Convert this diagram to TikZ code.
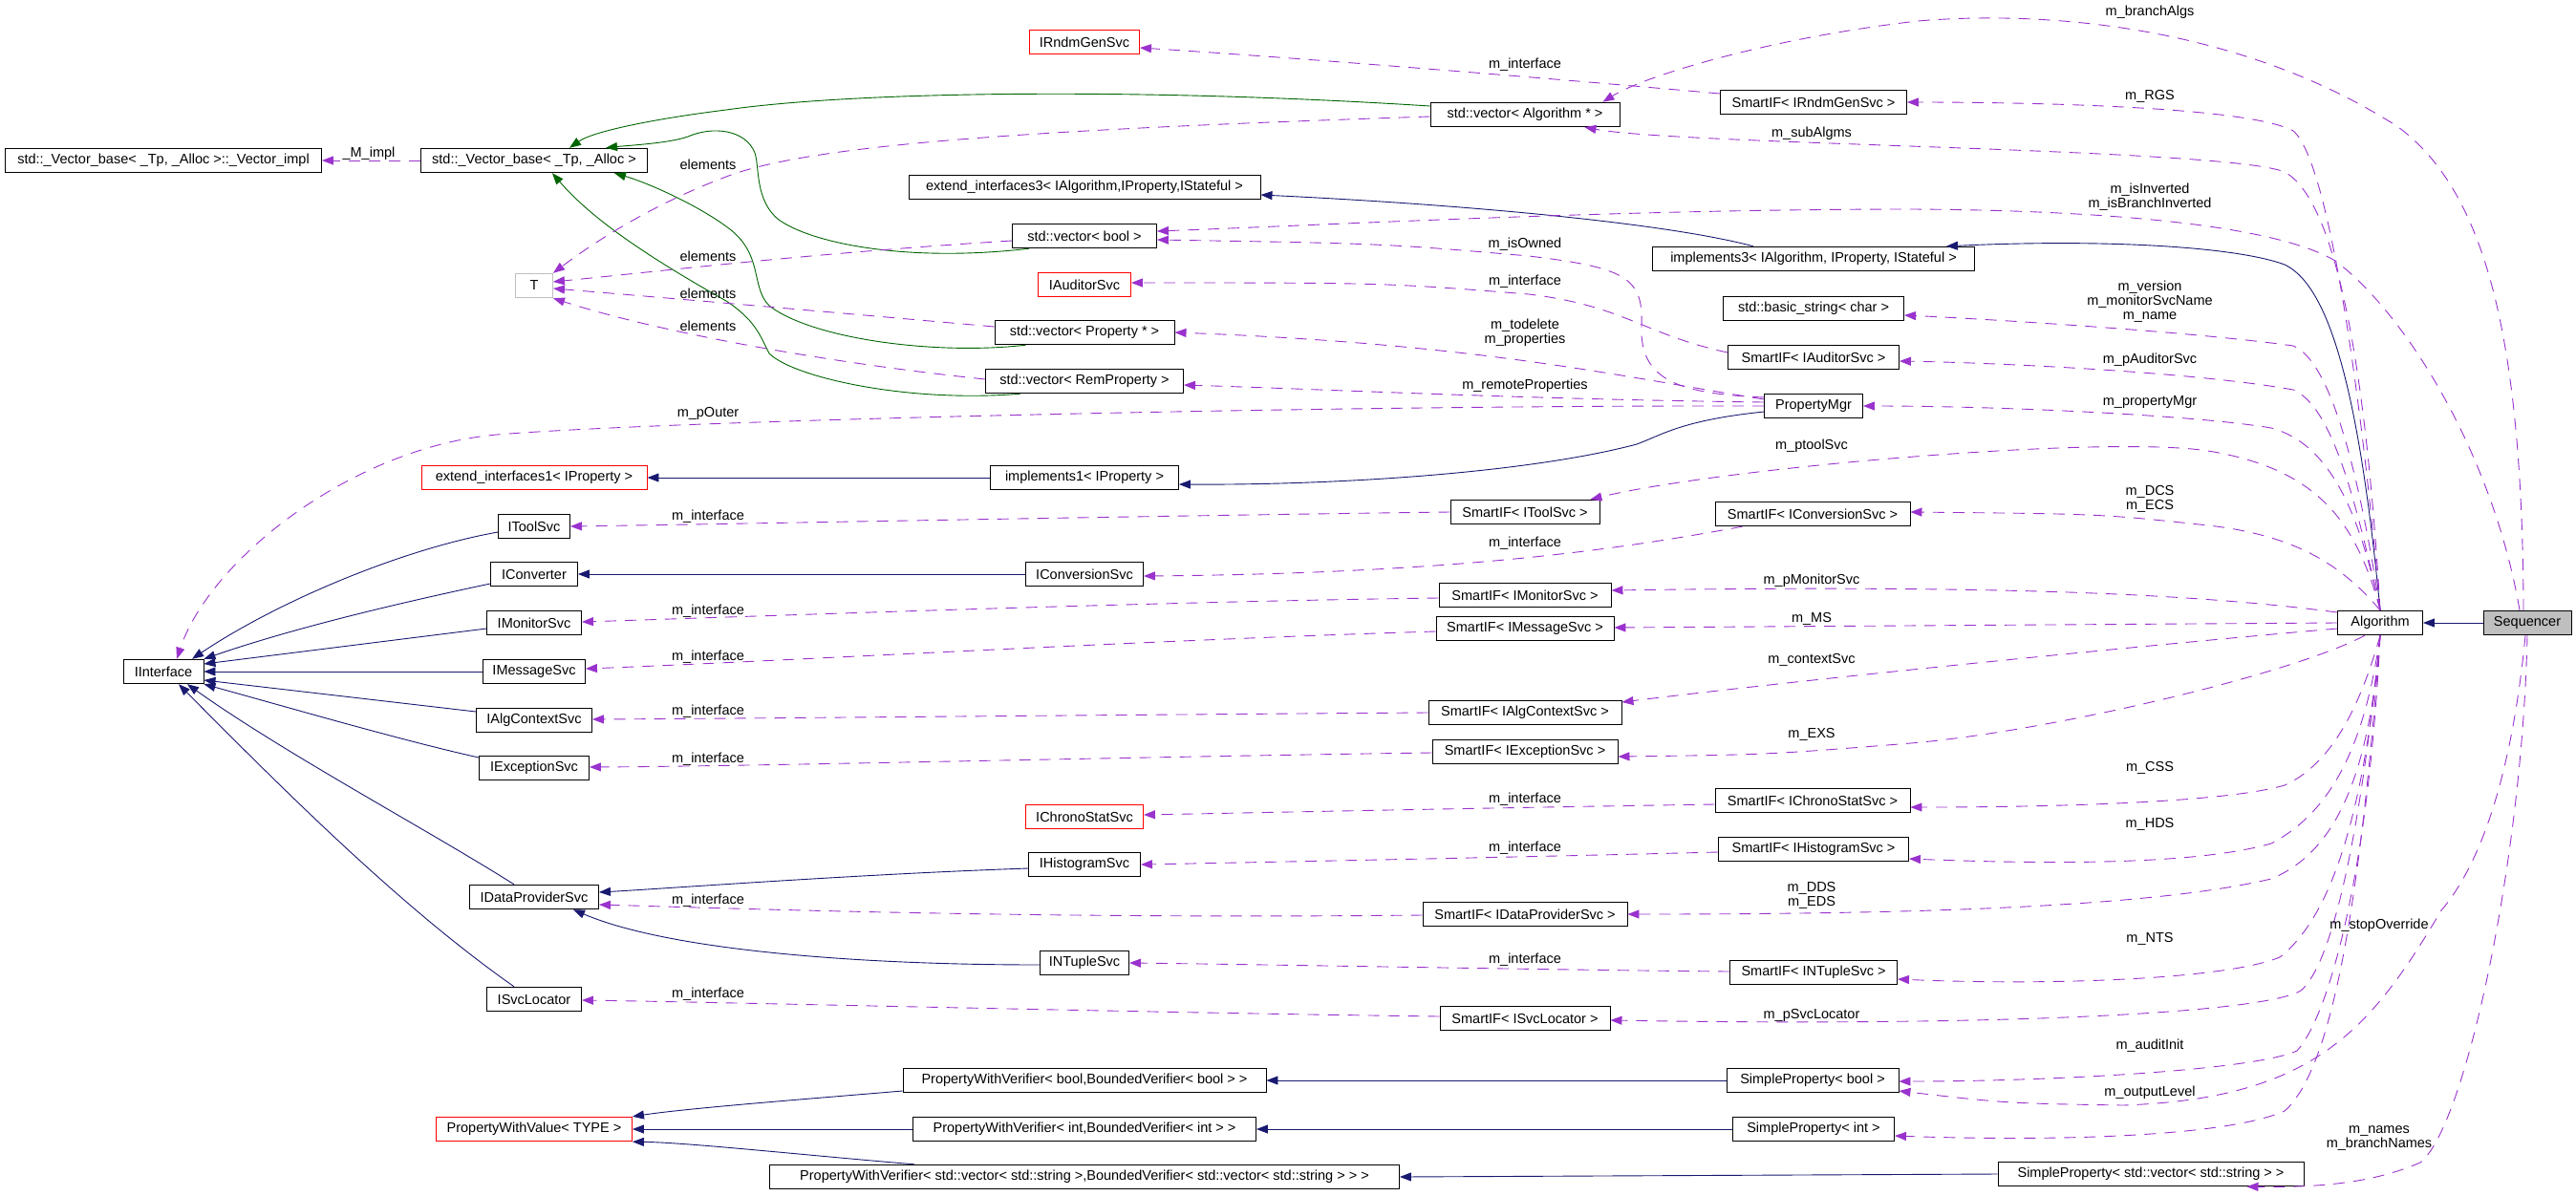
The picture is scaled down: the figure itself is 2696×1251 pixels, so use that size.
\documentclass[tikz,border=0pt]{standalone}
\usepackage{fontspec}
\setmainfont{Liberation Sans}
\usetikzlibrary{arrows.meta}

\definecolor{doxblue}{HTML}{191970}
\definecolor{doxgreen}{HTML}{006400}
\definecolor{doxpurple}{HTML}{9A32CD}
\colorlet{focus fill}{black!25}
\colorlet{tparam edge}{black!25}
\tikzset{
  cls/.style={draw=black, line width=0.9pt, rectangle, inner xsep=6pt, inner ysep=0pt,
    minimum height=25.5pt, font=\fontsize{14.5}{15}\selectfont},
  incomplete/.style={cls, draw=red},
  tparam/.style={cls, draw=tparam edge},
  focus/.style={cls, fill=focus fill},
  lbl/.style={inner sep=0pt, align=center, font=\fontsize{14.5}{15}\selectfont}
  }
\tikzstyle{pub} = [draw=doxblue, line width=0.9pt, -{Triangle[length=12pt,width=9pt]}]
\tikzstyle{prot} = [draw=doxgreen, line width=0.9pt, -{Triangle[length=12pt,width=9pt]}]
\tikzstyle{member} = [draw=doxpurple, line width=0.9pt, dash pattern=on 12pt off 9pt, -{Triangle[length=12pt,width=9pt]}]

\begin{document}
\begin{tikzpicture}[x=1pt, y=-1pt]
  \useasboundingbox (0,0) rectangle (2696,1251);

  % classes
  \node[cls, minimum width=331pt] (vimpl) at (171,168) {std::\_Vector\_base< \_Tp, \_Alloc >::\_Vector\_impl};
  \node[cls, minimum width=84pt] (iface) at (171,703) {IInterface};

  \node[cls, minimum width=237pt] (vbase) at (559,168) {std::\_Vector\_base< \_Tp, \_Alloc >};
  \node[tparam, minimum width=39pt] (T) at (559,299) {T};
  \node[incomplete, minimum width=236pt] (ext1) at (559,500) {extend\_interfaces1< IProperty >};
  \foreach \nm/\y/\w/\txt in {tool/551/75/IToolSvc, conv/601/91/IConverter, mon/652/99/IMonitorSvc,
      msg/703/107/IMessageSvc, ctx/754/121/IAlgContextSvc, exc/804/115/IExceptionSvc} {
    \node[cls, minimum width=\w pt] (\nm) at (559,\y) {\txt};
  }
  \node[cls, minimum width=135pt] (dps) at (559,939) {IDataProviderSvc};
  \node[cls, minimum width=99pt] (loc) at (559,1046) {ISvcLocator};
  \node[incomplete, minimum width=205pt] (pwval) at (559,1182) {PropertyWithValue< TYPE >};

  \node[incomplete, minimum width=115pt] (rndm) at (1135,44) {IRndmGenSvc};
  \node[cls, minimum width=368pt] (ext3) at (1135,196) {extend\_interfaces3< IAlgorithm,IProperty,IStateful >};
  \node[cls, minimum width=151pt] (vbool) at (1135,247) {std::vector< bool >};
  \node[incomplete, minimum width=97pt] (audsvc) at (1135,298) {IAuditorSvc};
  \node[cls, minimum width=188pt] (vprop) at (1135,348) {std::vector< Property * >};
  \node[cls, minimum width=207pt] (vrem) at (1135,399) {std::vector< RemProperty >};
  \node[cls, minimum width=197pt] (impl1) at (1135,500) {implements1< IProperty >};
  \node[cls, minimum width=123pt] (convsvc) at (1135,601) {IConversionSvc};
  \node[incomplete, minimum width=123pt] (chrono) at (1135,855) {IChronoStatSvc};
  \node[cls, minimum width=117pt] (hist) at (1135,905) {IHistogramSvc};
  \node[cls, minimum width=93pt] (ntup) at (1135,1008) {INTupleSvc};
  \node[cls, minimum width=380pt] (pwvbool) at (1135,1131) {PropertyWithVerifier< bool,BoundedVerifier< bool > >};
  \node[cls, minimum width=359pt] (pwvint) at (1135,1182) {PropertyWithVerifier< int,BoundedVerifier< int > >};
  \node[cls, minimum width=659pt] (pwvvec) at (1135,1232) {PropertyWithVerifier< std::vector< std::string >,BoundedVerifier< std::vector< std::string > > >};

  \node[cls, minimum width=198pt] (valg) at (1596,120) {std::vector< Algorithm * >};
  \node[cls, minimum width=156pt] (toolif) at (1596,536) {SmartIF< IToolSvc >};
  \node[cls, minimum width=180pt] (monif) at (1596,623) {SmartIF< IMonitorSvc >};
  \node[cls, minimum width=186pt] (msgif) at (1596,658) {SmartIF< IMessageSvc >};
  \node[cls, minimum width=202pt] (ctxif) at (1596,746) {SmartIF< IAlgContextSvc >};
  \node[cls, minimum width=194pt] (excif) at (1596,787) {SmartIF< IExceptionSvc >};
  \node[cls, minimum width=214pt] (dpsif) at (1596,957) {SmartIF< IDataProviderSvc >};
  \node[cls, minimum width=178pt] (locif) at (1596,1066) {SmartIF< ISvcLocator >};

  \node[cls, minimum width=195pt] (rndmif) at (1898,107) {SmartIF< IRndmGenSvc >};
  \node[cls, minimum width=337pt] (impl3) at (1898,271) {implements3< IAlgorithm, IProperty, IStateful >};
  \node[cls, minimum width=189pt] (bstr) at (1898,323) {std::basic\_string< char >};
  \node[cls, minimum width=179pt] (audif) at (1898,374) {SmartIF< IAuditorSvc >};
  \node[cls, minimum width=103pt] (pmgr) at (1898,425) {PropertyMgr};
  \node[cls, minimum width=204pt] (convif) at (1897,538) {SmartIF< IConversionSvc >};
  \node[cls, minimum width=204pt] (chronoif) at (1897,838) {SmartIF< IChronoStatSvc >};
  \node[cls, minimum width=199pt] (histif) at (1898,889) {SmartIF< IHistogramSvc >};
  \node[cls, minimum width=175pt] (ntupif) at (1898,1018) {SmartIF< INTupleSvc >};
  \node[cls, minimum width=180pt] (spbool) at (1897,1131) {SimpleProperty< bool >};
  \node[cls, minimum width=169pt] (spint) at (1898,1182) {SimpleProperty< int >};

  \node[cls, minimum width=320pt] (spvec) at (2251,1229) {SimpleProperty< std::vector< std::string > >};
  \node[cls, minimum width=89pt] (alg) at (2491,652) {Algorithm};
  \node[focus, minimum width=92pt] (seq) at (2645,652) {Sequencer};

  % public inheritance
  \draw[pub] (seq.west) -- (alg.east);
  \draw[pub] (alg.north) .. controls (2470,420) and (2440,300) .. (2391,277) .. controls (2340,258) and (2200,250) .. ([xshift=-30pt]impl3.north east);
  \draw[pub] ([xshift=-63pt]impl3.north) .. controls (1750,235) and (1550,215) .. ([yshift=-8pt]ext3.east);
  \draw[pub] ([yshift=-6pt]pmgr.west) .. controls (1760,440) and (1740,455) .. (1713,465) .. controls (1600,495) and (1400,508) .. ([yshift=-7pt]impl1.east);
  \draw[pub] (impl1.west) -- (ext1.east);
  \draw[pub] (convsvc.west) -- (conv.east);
  \draw[pub] ([yshift=-4pt]hist.west) .. controls (900,915) and (700,930) .. ([yshift=5pt]dps.east);
  \draw[pub] ([yshift=-2pt]ntup.west) .. controls (900,1010) and (700,995) .. ([xshift=41pt]dps.south);
  \draw[pub] ([yshift=-6pt]tool.west) .. controls (420,575) and (290,630) .. ([xshift=30pt]iface.north);
  \draw[pub] ([yshift=-10pt]conv.west) .. controls (400,635) and (300,660) .. (iface.north east);
  \draw[pub] ([yshift=-6pt]mon.west) -- ([yshift=8pt]iface.east);
  \draw[pub] (msg.west) -- (iface.east);
  \draw[pub] ([yshift=9pt]ctx.west) -- ([yshift=-9pt]iface.east);
  \draw[pub] ([yshift=11pt]exc.west) .. controls (420,775) and (300,740) .. (iface.south east);
  \draw[pub] ([xshift=-21pt]dps.north) .. controls (450,870) and (300,790) .. ([xshift=25pt]iface.south);
  \draw[pub] ([xshift=-21pt]loc.north) .. controls (420,950) and (300,830) .. ([xshift=16pt]iface.south);
  \draw[pub] ([yshift=-11pt]pwvbool.west) .. controls (850,1150) and (720,1160) .. (pwval.north east);
  \draw[pub] (pwvint.west) -- (pwval.east);
  \draw[pub] ([xshift=152pt]pwvvec.north west) .. controls (850,1210) and (720,1196) .. (pwval.south east);
  \draw[pub] (spbool.west) -- (pwvbool.east);
  \draw[pub] (spint.west) -- (pwvint.east);
  \draw[pub] (spvec.west) -- (pwvvec.east);

  % protected inheritance
  \draw[prot] ([yshift=9pt]valg.west) .. controls (1200,92) and (900,95) .. (760,115) .. controls (680,125) and (620,138) .. ([xshift=37pt]vbase.north);
  \draw[prot] ([xshift=18pt]vbool.south west) .. controls (950,275) and (850,255) .. (815,230) .. controls (790,210) and (795,175) .. (790,160) .. controls (780,135) and (745,132) .. (720,143) .. controls (700,150) and (660,152) .. ([xshift=75pt]vbase.north);
  \draw[prot] ([xshift=33pt]vprop.south west) .. controls (980,372) and (850,355) .. (805,320) .. controls (785,300) and (800,265) .. (760,237) .. controls (730,215) and (680,192) .. ([xshift=84pt]vbase.south);
  \draw[prot] ([xshift=37pt]vrem.south west) .. controls (950,422) and (830,395) .. (805,370) .. controls (795,350) and (790,335) .. (760,315) .. controls (680,270) and (620,230) .. ([xshift=19pt]vbase.south);

  % usage
  \draw[member] (vbase.west) -- (vimpl.east);
  \draw[member] ([yshift=-2pt]valg.west) .. controls (1100,135) and (850,150) .. (760,185) .. controls (680,215) and (620,255) .. (T.north east);
  \draw[member] ([yshift=-5pt]vbool.west) .. controls (850,265) and (700,283) .. ([yshift=4pt]T.east);
  \draw[member] ([yshift=6pt]vprop.west) .. controls (850,325) and (700,312) .. ([yshift=-3pt]T.east);
  \draw[member] ([yshift=2pt]vrem.west) .. controls (850,378) and (680,345) .. (T.south east);

  \draw[member] ([yshift=9pt]pmgr.west) .. controls (1760,412) and (1715,400) .. (1718,340) .. controls (1720,290) and (1700,280) .. (1600,268) .. controls (1450,255) .. ([yshift=-4pt]vbool.east);
  \draw[member] ([yshift=7pt]pmgr.west) .. controls (1700,395) and (1550,360) .. (vprop.east);
  \draw[member] ([yshift=4pt]pmgr.west) .. controls (1600,418) and (1400,408) .. ([yshift=-4pt]vrem.east);
  \draw[member] (pmgr.west) .. controls (1400,424) and (700,440) .. (520,455) .. controls (370,468) and (220,585) .. ([xshift=14pt]iface.north);

  \draw[member] ([yshift=9pt]rndmif.west) .. controls (1600,80) and (1350,60) .. ([yshift=-6pt]rndm.east);
  \draw[member] ([yshift=5pt]audif.west) .. controls (1720,350) and (1700,320) .. (1600,308) .. controls (1450,296) .. ([yshift=2pt]audsvc.east);
  \draw[member] (toolif.west) .. controls (1200,540) and (800,548) .. (tool.east);
  \draw[member] ([xshift=29pt]convif.south west) .. controls (1720,570) and (1550,600) .. ([yshift=-2pt]convsvc.east);
  \draw[member] ([yshift=-3pt]monif.west) .. controls (1200,630) and (800,645) .. ([yshift=1pt]mon.east);
  \draw[member] ([yshift=-3pt]msgif.west) .. controls (1200,670) and (800,693) .. ([yshift=3pt]msg.east);
  \draw[member] (ctxif.west) .. controls (1200,748) and (800,752) .. ([yshift=1pt]ctx.east);
  \draw[member] ([yshift=-1pt]excif.west) .. controls (1200,792) and (800,802) .. ([yshift=1pt]exc.east);
  \draw[member] ([yshift=-4pt]chronoif.west) .. controls (1600,845) and (1350,850) .. ([yshift=2pt]chrono.east);
  \draw[member] ([yshift=-3pt]histif.west) .. controls (1600,897) and (1350,902) .. (hist.east);
  \draw[member] ([yshift=-1pt]dpsif.west) .. controls (1100,962) and (800,952) .. ([yshift=-8pt]dps.east);
  \draw[member] ([yshift=1pt]ntupif.west) .. controls (1600,1015) and (1350,1010) .. (ntup.east);
  \draw[member] ([yshift=2pt]locif.west) .. controls (1200,1060) and (800,1050) .. ([yshift=-1pt]loc.east);

  \draw[member] (alg.north) .. controls (2475,450) and (2440,170) .. (2400,137) .. controls (2350,110) and (2100,107) .. (rndmif.east);
  \draw[member] (alg.north) .. controls (2480,450) and (2455,215) .. (2391,180) .. controls (2330,155) and (1760,152) .. ([xshift=-37pt]valg.south east);
  \draw[member] (alg.north) .. controls (2470,500) and (2440,378) .. (2400,362) .. controls (2300,348) and (2100,335) .. ([yshift=-7pt]bstr.east);
  \draw[member] (alg.north) .. controls (2465,520) and (2440,425) .. (2400,408) .. controls (2300,390) and (2100,380) .. ([yshift=-4pt]audif.east);
  \draw[member] (alg.north) .. controls (2470,540) and (2440,465) .. (2377,448) .. controls (2300,435) and (2100,425) .. (pmgr.east);
  \draw[member] (alg.north) .. controls (2465,540) and (2420,490) .. (2311,472) .. controls (2200,455) and (1800,490) .. ([xshift=-10pt]toolif.north east);
  \draw[member] (alg.north) .. controls (2450,590) and (2400,560) .. (2311,550) .. controls (2200,538) .. ([yshift=2pt]convif.east);
  \draw[member] ([yshift=11pt]alg.west) .. controls (2300,622) and (2100,612) .. ([yshift=5pt]monif.east);
  \draw[member] (alg.west) -- ([yshift=1pt]msgif.east);
  \draw[member] ([yshift=-6pt]alg.west) .. controls (2250,675) and (1900,710) .. ([yshift=11pt]ctxif.east);
  \draw[member] ([xshift=-16pt]alg.south) .. controls (2400,705) and (2150,765) .. (2000,778) .. controls (1850,790) .. ([yshift=-5pt]excif.east);
  \draw[member] (alg.south) .. controls (2470,740) and (2440,800) .. (2391,822) .. controls (2330,840) and (2150,845) .. ([yshift=-7pt]chronoif.east);
  \draw[member] (alg.south) .. controls (2475,780) and (2440,850) .. (2377,883) .. controls (2300,905) and (2150,905) .. ([yshift=-10pt]histif.east);
  \draw[member] (alg.south) .. controls (2480,800) and (2450,890) .. (2377,920) .. controls (2250,950) and (2000,957) .. (dpsif.east);
  \draw[member] (alg.south) .. controls (2475,850) and (2440,960) .. (2386,1002) .. controls (2330,1025) and (2150,1032) .. ([yshift=-7pt]ntupif.east);
  \draw[member] (alg.south) .. controls (2470,880) and (2440,1010) .. (2408,1037) .. controls (2370,1060) and (2100,1075) .. ([yshift=-2pt]locif.east);
  \draw[member] (alg.south) .. controls (2480,900) and (2440,1060) .. (2404,1100) .. controls (2360,1120) and (2150,1132) .. ([yshift=-1pt]spbool.east);
  \draw[member] (alg.south) .. controls (2470,950) and (2440,1120) .. (2391,1163) .. controls (2330,1190) and (2150,1195) .. ([yshift=-7pt]spint.east);

  \draw[member] ([xshift=-4pt]seq.north) .. controls (2640,350) and (2600,200) .. (2510,133) .. controls (2350,30) and (2150,10) .. (2007,22) .. controls (1850,40) and (1720,80) .. ([xshift=-18pt]valg.north east);
  \draw[member] ([xshift=-8pt]seq.north) .. controls (2610,480) and (2520,330) .. (2444,273) .. controls (2380,235) and (2200,220) .. (2000,219) .. controls (1700,219) and (1400,235) .. ([yshift=5pt]vbool.east);
  \draw[member] ([xshift=-2pt]seq.south) .. controls (2630,800) and (2600,900) .. (2555,953) .. controls (2480,1080) and (2420,1150) .. (2222,1157) .. controls (2100,1155) .. ([yshift=-11pt]spbool.east);
  \draw[member] (seq.south) .. controls (2640,900) and (2580,1180) .. (2533,1217) .. controls (2480,1240) and (2420,1243) .. ([xshift=-60pt]spvec.south east);

  % labels
  \node[lbl] (lbMimpl) at (386,161) {\_M\_impl};
  \foreach \nm/\y in {lbElemA/172, lbElemB/268, lbElemC/307, lbElemD/341} {
    \node[lbl] (\nm) at (741,\y) {elements};
  }
  \node[lbl] (lbOuter) at (741,433) {m\_pOuter};
  \foreach \nm/\x/\y in {lbIfA/741/541, lbIfB/741/640, lbIfC/741/688, lbIfD/741/745, lbIfE/741/795,
      lbIfF/741/943, lbIfG/741/1041, lbIfH/1596/68, lbIfI/1596/295, lbIfJ/1596/569,
      lbIfK/1596/837, lbIfL/1596/888, lbIfM/1596/1005} {
    \node[lbl] (\nm) at (\x,\y) {m\_interface};
  }
  \node[lbl] (lbOwned) at (1596,256) {m\_isOwned};
  \node[lbl] (lbDelete) at (1596,348.5) {m\_todelete\\m\_properties};
  \node[lbl] (lbRemote) at (1596,404) {m\_remoteProperties};
  \node[lbl] (lbSubAlgs) at (1896,140) {m\_subAlgms};
  \node[lbl] (lbTool) at (1896,467) {m\_ptoolSvc};
  \node[lbl] (lbMon) at (1896,608) {m\_pMonitorSvc};
  \node[lbl] (lbMS) at (1896,648) {m\_MS};
  \node[lbl] (lbCtx) at (1896,691) {m\_contextSvc};
  \node[lbl] (lbEXS) at (1896,769) {m\_EXS};
  \node[lbl] (lbDDS) at (1896,937.5) {m\_DDS\\m\_EDS};
  \node[lbl] (lbLoc) at (1896,1063) {m\_pSvcLocator};
  \node[lbl] (lbBranch) at (2250,13) {m\_branchAlgs};
  \node[lbl] (lbRGS) at (2250,101) {m\_RGS};
  \node[lbl] (lbInv) at (2250,206) {m\_isInverted\\m\_isBranchInverted};
  \node[lbl] (lbVersion) at (2250,316) {m\_version\\m\_monitorSvcName\\m\_name};
  \node[lbl] (lbAud) at (2250,377) {m\_pAuditorSvc};
  \node[lbl] (lbPMgr) at (2250,421) {m\_propertyMgr};
  \node[lbl] (lbDCS) at (2250,522) {m\_DCS\\m\_ECS};
  \node[lbl] (lbCSS) at (2250,804) {m\_CSS};
  \node[lbl] (lbHDS) at (2250,863) {m\_HDS};
  \node[lbl] (lbNTS) at (2250,983) {m\_NTS};
  \node[lbl] (lbAudit) at (2250,1095) {m\_auditInit};
  \node[lbl] (lbOutput) at (2250,1144) {m\_outputLevel};
  \node[lbl] (lbStop) at (2490,969) {m\_stopOverride};
  \node[lbl] (lbNames) at (2490,1191.5) {m\_names\\m\_branchNames};
\end{tikzpicture}
\end{document}
